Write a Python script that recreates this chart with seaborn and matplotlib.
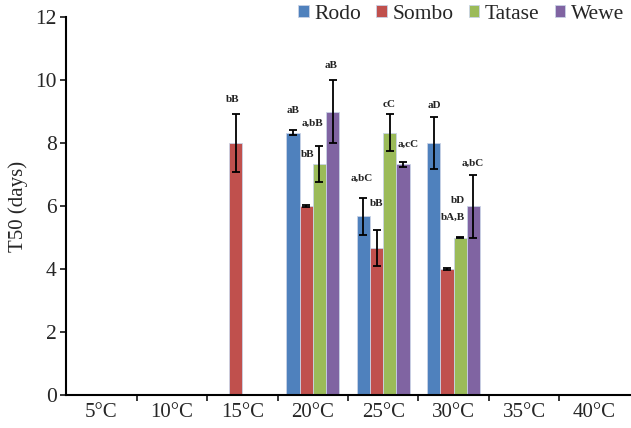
import matplotlib
matplotlib.use("Agg")
import matplotlib.pyplot as plt
import seaborn as sns
import pandas as pd
import numpy as np

# ---- data ----
temps = ["5°C", "10°C", "15°C", "20°C", "25°C", "30°C", "35°C", "40°C"]
varieties = ["Rodo", "Sombo", "Tatase", "Wewe"]
rodo   = [0, 0, 0,    8.33, 5.67, 8.0, 0, 0]
sombo  = [0, 0, 8.0,  6.0,  4.67, 4.0, 0, 0]
tatase = [0, 0, 0,    7.33, 8.33, 5.0, 0, 0]
wewe   = [0, 0, 0,    9.0,  7.33, 6.0, 0, 0]
rodo_err   = [0, 0, 0,    0.07, 0.58, 0.82, 0, 0]
sombo_err  = [0, 0, 0.93, 0.02, 0.58, 0.02, 0, 0]
tatase_err = [0, 0, 0,    0.58, 0.58, 0.02, 0, 0]
wewe_err   = [0, 0, 0,    1.0,  0.08, 1.0,  0, 0]
# letters: (variety, temperature, text)
letters = [
    ("Sombo", "15°C", "bB"),
    ("Rodo", "20°C", "aB"), ("Sombo", "20°C", "a,bB"), ("Tatase", "20°C", "bB"), ("Wewe", "20°C", "aB"),
    ("Rodo", "25°C", "a,bC"), ("Sombo", "25°C", "bB"), ("Tatase", "25°C", "cC"), ("Wewe", "25°C", "a,cC"),
    ("Rodo", "30°C", "aD"), ("Sombo", "30°C", "bA,B"), ("Tatase", "30°C", "bD"), ("Wewe", "30°C", "a,bC"),
]
# label placement offsets relative to bar centre / error-bar top (styling)
letter_offsets = [
    (-0.04, 0.44),
    (0.0, 0.65), (0.09, 2.6), (-0.16, -0.26), (-0.02, 0.45),
    (-0.02, 0.63), (0.0, 0.83), (-0.01, 0.33), (0.07, 0.56),
    (0.01, 0.38), (0.08, 1.62), (-0.03, 1.16), (-0.01, 0.36),
]

values = {"Rodo": rodo, "Sombo": sombo, "Tatase": tatase, "Wewe": wewe}
errors = {"Rodo": rodo_err, "Sombo": sombo_err, "Tatase": tatase_err, "Wewe": wewe_err}
colors = ["#4F81BD", "#C0504D", "#9BBB59", "#8064A2"]

rows = []
for v in varieties:
    for t, val in zip(temps, values[v]):
        rows.append({"Temperature": t, "Variety": v, "T50": val})
df = pd.DataFrame(rows)

sns.set_style("ticks")
plt.rcParams["font.family"] = ["Liberation Serif", "DejaVu Serif"]

fig = plt.figure(figsize=(6.31, 4.28), dpi=100)
ax = fig.add_axes([0.105, 0.077, 0.893, 0.883])

sns.barplot(data=df, x="Temperature", y="T50", hue="Variety", order=temps,
            hue_order=varieties, palette=colors, width=0.75, errorbar=None,
            saturation=1, ax=ax, edgecolor="#c9d3e6", linewidth=0.6)

centers = {}
for v, cont in zip(varieties, ax.containers):
    for t, bar, val, err in zip(temps, cont, values[v], errors[v]):
        cx = bar.get_x() + bar.get_width() / 2
        centers[(v, t)] = (cx, val + err)
        if val > 0:
            ax.errorbar(cx, val, yerr=err, fmt="none", ecolor="black",
                        elinewidth=1.3, capsize=3, capthick=1.3, zorder=5)

for (v, t, txt), (dx, dy) in zip(letters, letter_offsets):
    cx, top = centers[(v, t)]
    ax.text(cx + dx, top + dy, txt, ha="center", va="center",
            fontsize=8, fontweight="bold", color="#222222")

ax.set_ylim(0, 12)
ax.set_yticks(np.arange(0, 13, 2))
ax.set_xlim(-0.5, len(temps) - 0.5)
ax.set_xlabel("")
ax.set_ylabel("T50 (days)", fontsize=15, labelpad=5)
ax.tick_params(axis="y", labelsize=15.5, length=4, width=1.3, direction="out", pad=3)
ax.tick_params(axis="x", which="major", labelsize=15, length=0, pad=6)
ax.set_xticks(np.arange(0.5, len(temps) - 0.5, 1), minor=True)
ax.tick_params(axis="x", which="minor", length=4, width=1.3, direction="out")
for s in ["top", "right"]:
    ax.spines[s].set_visible(False)
for s in ["left", "bottom"]:
    ax.spines[s].set_linewidth(1.5)
    ax.spines[s].set_color("black")

handles, labels = ax.get_legend_handles_labels()
ax.legend(handles, labels, loc="upper right", bbox_to_anchor=(1.005, 1.055), ncol=4,
          frameon=False, fontsize=15.5, handlelength=0.5, handleheight=0.5,
          handletextpad=0.25, columnspacing=0.7, borderaxespad=0)

fig.savefig("out.png", dpi=100)
